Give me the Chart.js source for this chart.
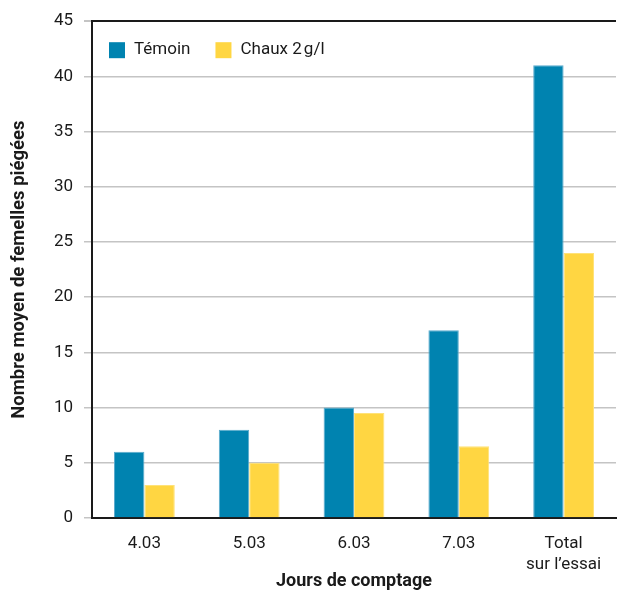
<!doctype html>
<html lang="fr">
<head>
<meta charset="utf-8">
<title>Femelles piégées</title>
<script src="https://cdn.jsdelivr.net/npm/chart.js"></script>
<style>
  html, body { margin: 0; padding: 0; background: #fff; }
  #wrap { width: 617px; height: 592px; }
</style>
</head>
<body>
<div id="wrap"><canvas id="barChart" width="617" height="592"></canvas></div>
<script>
// data
const categories = ['4.03', '5.03', '6.03', '7.03', ['Total', 'sur l\u2019essai']];
const temoin = [6, 8, 10, 17, 41];
const chaux = [3, 5, 9.5, 6.5, 24];
const seriesNames = ['Témoin', 'Chaux 2\u2009g/l'];

const FONT = 'Roboto, "Liberation Sans", sans-serif';

// legend drawn inside the plot, top left
const insideLegend = {
  id: 'insideLegend',
  afterDraw(chart) {
    const ctx = chart.ctx;
    const area = chart.chartArea;
    let x = area.left + 17;
    const y = area.top + 21;
    ctx.save();
    ctx.font = '17px ' + FONT;
    ctx.textBaseline = 'middle';
    chart.data.datasets.forEach(ds => {
      ctx.fillStyle = ds.backgroundColor;
      ctx.fillRect(x, y, 16, 16);
      ctx.fillStyle = '#1a1a1a';
      ctx.fillText(ds.label, x + 25, y + 8);
      x += 25 + ctx.measureText(ds.label).width + 25;
    });
    ctx.restore();
  }
};

const ctx = document.getElementById('barChart').getContext('2d');
const chart = new Chart(ctx, {
  type: 'bar',
  data: {
    labels: categories,
    datasets: [
      { label: seriesNames[0], data: temoin, backgroundColor: 'rgb(0,131,176)',
        borderColor: 'rgb(90,170,205)', borderWidth: 1, borderSkipped: 'bottom' },
      { label: seriesNames[1], data: chaux, backgroundColor: 'rgb(255,214,66)',
        borderColor: 'rgb(255,226,120)', borderWidth: 1, borderSkipped: 'bottom' }
    ]
  },
  options: {
    responsive: false,
    animation: false,
    layout: { padding: { top: 18, right: 1, left: 0, bottom: 0 } },
    datasets: { bar: { categoryPercentage: 0.58, barPercentage: 1.0 } },
    plugins: {
      legend: { display: false },
      tooltip: { enabled: false }
    },
    scales: {
      x: {
        grid: { display: false },
        border: { display: true, color: '#1a1a1a', width: 2 },
        ticks: { color: '#1a1a1a', font: { family: FONT, size: 17 }, padding: 8, maxRotation: 0 },
        title: { display: true, text: 'Jours de comptage', color: '#1a1a1a',
                 font: { family: FONT, size: 18, weight: 'bold' }, padding: { top: 0, bottom: 0 } },
        afterFit: s => { s.height = 74; }
      },
      y: {
        min: 0, max: 45,
        ticks: { stepSize: 5, color: '#1a1a1a', font: { family: FONT, size: 17 }, padding: 11 },
        grid: {
          color: c => (c.tick && c.tick.value === 45) ? '#1a1a1a' : '#c4c4c4',
          tickColor: '#c4c4c4',
          lineWidth: c => (c.tick && c.tick.value === 45) ? 2 : 1.5,
          tickLength: 8
        },
        border: { display: true, color: '#1a1a1a', width: 2 },
        title: { display: true, text: 'Nombre moyen de femelles piégées', color: '#1a1a1a',
                 font: { family: FONT, size: 18.5, weight: 'bold' }, padding: { top: 8, bottom: 0 } },
        afterFit: s => { s.width = 92; }
      }
    }
  },
  plugins: [insideLegend]
});
</script>
</body>
</html>
